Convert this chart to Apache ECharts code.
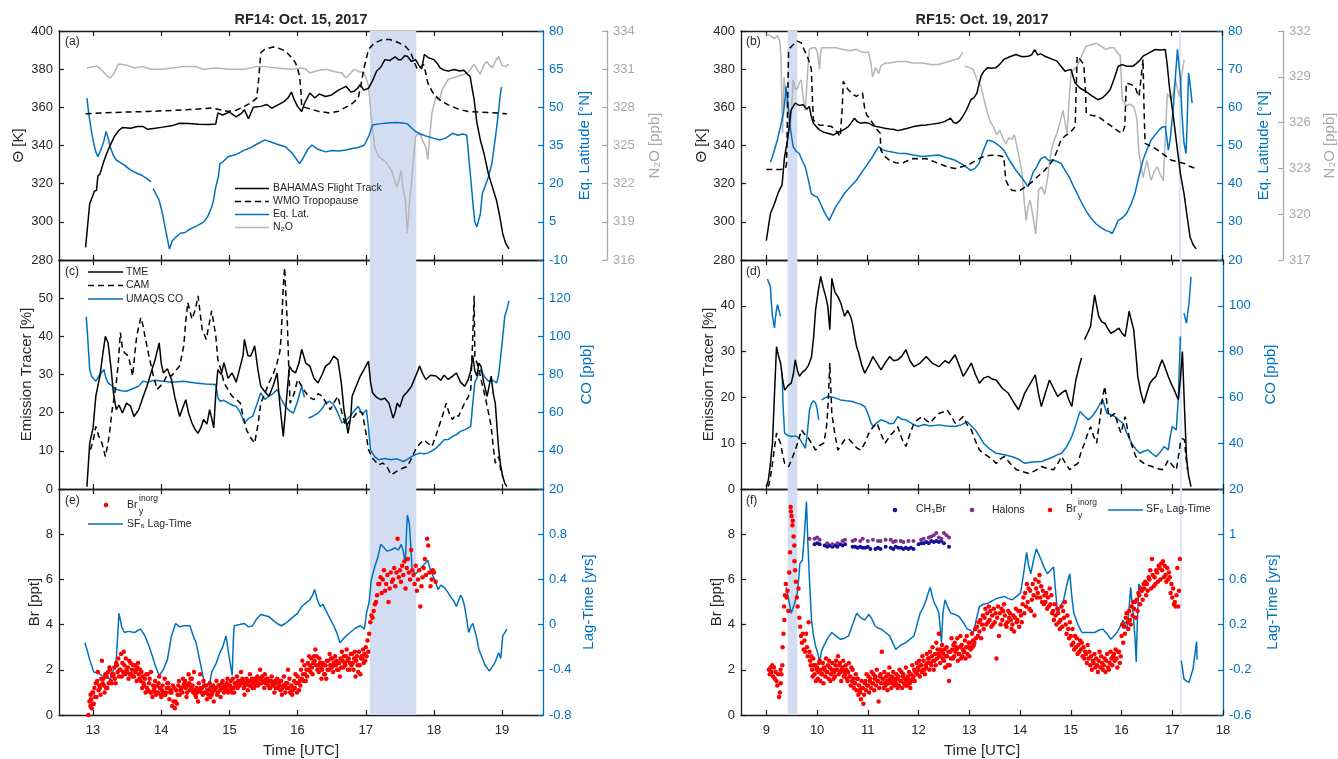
<!DOCTYPE html>
<html><head><meta charset="utf-8">
<script src="https://cdn.jsdelivr.net/npm/echarts@6/dist/echarts.min.js"></script>
<style>html,body{margin:0;padding:0;background:#fff}#c{width:1338px;height:759px}</style>
</head><body><div id="c"></div>
<script>
// ---------------- DATA ----------------
const xTicksL = [13,14,15,16,17,18,19];
const xTicksR = [9,10,11,12,13,14,15,16,17,18];
const thetaTicks = [280,300,320,340,360,380,400];
const latTicksL = [-10,5,20,35,50,65,80];
const latTicksR = [20,30,40,50,60,70,80];
const n2oTicksL = [316,319,322,325,328,331,334];
const n2oTicksR = [317,320,323,326,329,332];
const emTicksL = [0,10,20,30,40,50];
const emTicksR = [0,10,20,30,40];
const coTicksL = [20,40,60,80,100,120];
const coTicksR = [20,40,60,80,100];
const brTicks = [0,2,4,6,8];
const lagTicksL = [-0.8,-0.4,0,0.4,0.8];
const lagTicksR = [-0.6,-0.2,0.2,0.6,1];
const shadeL = [17.06,17.74];
const shadeR = [9.42,9.61];
const shadeR2 = [17.15,17.19];

// RF14 (left column)
const thetaL = [[12.89,286.6],[12.95,309.5],[13.02,316],[13.05,316.5],[13.07,324],[13.1,325],[13.16,332],[13.22,337.6],[13.31,344.6],[13.38,348],[13.43,349.4],[13.55,349],[13.65,350],[13.73,350],[13.8,348.5],[13.91,349],[14.0,349.5],[14.15,350.3],[14.27,351.7],[14.4,351.5],[14.55,351.2],[14.7,351],[14.8,351.3],[14.83,357],[14.9,356],[15.0,357.5],[15.1,355],[15.18,357],[15.22,358.7],[15.28,354],[15.35,360],[15.46,360.5],[15.55,361.5],[15.62,359.5],[15.7,361],[15.8,363],[15.86,365],[15.91,368],[15.95,364],[16.0,360.5],[16.06,357.8],[16.1,362],[16.18,367.5],[16.25,365],[16.32,367],[16.41,365.7],[16.5,366.5],[16.6,369],[16.71,371],[16.78,368],[16.83,368.4],[16.88,370],[16.92,372],[16.97,369],[17.04,370],[17.1,374],[17.16,379],[17.22,381],[17.28,385],[17.35,384.5],[17.43,386.5],[17.48,385],[17.52,385],[17.57,387],[17.61,386.8],[17.67,384],[17.73,385],[17.78,382],[17.82,380],[17.86,387.7],[17.92,386],[18.0,385],[18.05,383],[18.09,380.7],[18.15,379.5],[18.21,379],[18.3,379.8],[18.38,379],[18.44,379.4],[18.5,377],[18.53,376.3],[18.56,370],[18.59,364],[18.63,352],[18.68,343],[18.74,335],[18.8,325],[18.86,318],[18.92,311],[18.97,302],[19.01,293.7],[19.05,289],[19.1,285.8]];
const tropL = [[12.89,356.6],[13.1,357],[13.43,357.5],[13.8,357.8],[14.03,358.2],[14.4,358.8],[14.74,359.6],[14.9,358.5],[14.98,357.8],[15.1,358.5],[15.22,360.5],[15.32,362.5],[15.4,364.8],[15.43,375],[15.46,388.6],[15.52,390.5],[15.64,391.6],[15.72,391],[15.82,389.5],[15.9,386.5],[15.97,383.3],[16.0,380],[16.03,376.3],[16.05,368],[16.06,360.5],[16.18,359.2],[16.3,358],[16.47,357],[16.6,358],[16.71,360.1],[16.8,362],[16.89,364.8],[16.93,372],[16.98,381.5],[17.04,390.3],[17.12,393.5],[17.25,395.6],[17.35,395.5],[17.43,394.7],[17.5,393.5],[17.58,392],[17.63,390],[17.67,387.7],[17.72,383],[17.76,379.8],[17.8,381],[17.85,382.4],[17.88,378],[17.91,372.8],[17.97,368.5],[18.03,365.7],[18.12,363],[18.21,361.3],[18.35,359.2],[18.5,357.8],[18.65,357.5],[18.8,357.3],[18.95,357],[19.07,356.6]];
const latL = [[12.91,53.6],[12.93,49],[12.95,45.1],[12.98,40],[13.01,35.8],[13.04,32.5],[13.07,30.6],[13.1,32.5],[13.13,34.5],[13.16,37],[13.19,40.5],[13.22,38],[13.25,34.5],[13.3,31],[13.34,29.3],[13.45,27.5],[13.55,25.3],[13.65,24],[13.72,23.2],[13.79,22.0],[13.85,20.7],[13.86,null],[13.88,18.1],[13.93,15.5],[13.97,13.4],[14.02,8],[14.07,1],[14.12,-5.7],[14.16,-2.5],[14.21,-1.1],[14.28,0.5],[14.35,0.8],[14.39,1.6],[14.45,2.5],[14.53,3.5],[14.62,4.9],[14.68,7],[14.74,10.8],[14.77,14],[14.8,18.7],[14.84,23],[14.86,27.9],[14.9,28.5],[14.98,30.6],[15.1,31.5],[15.22,33.2],[15.3,34],[15.4,35.5],[15.52,37.2],[15.6,36.5],[15.7,35.5],[15.82,34.5],[15.92,32],[16.0,29],[16.03,27.9],[16.08,30],[16.15,33.5],[16.21,35.2],[16.3,33.5],[16.41,32.5],[16.5,33],[16.6,32.8],[16.71,33.2],[16.8,33.8],[16.9,34.3],[16.98,35.2],[17.05,39],[17.1,43.1],[17.2,43.5],[17.31,43.8],[17.45,44],[17.55,43.8],[17.61,43.5],[17.67,42],[17.73,40.5],[17.8,39.5],[17.91,38.5],[18.0,37.8],[18.09,37.2],[18.18,38],[18.27,39.8],[18.35,39],[18.42,39.5],[18.48,39.1],[18.5,34],[18.51,30.6],[18.54,22],[18.56,16.1],[18.58,10],[18.6,5],[18.63,3],[18.65,2.9],[18.68,8],[18.71,16.1],[18.75,19],[18.8,22.7],[18.85,28],[18.89,35.8],[18.92,42],[18.95,49],[18.97,54],[18.99,58]];
const n2oL = [[12.91,331.1],[13.0,331.2],[13.07,331.2],[13.15,330.8],[13.2,330.5],[13.25,330.3],[13.3,330.6],[13.37,331.4],[13.5,331.3],[13.6,331.1],[13.73,331.2],[13.85,331.0],[14.03,331],[14.15,331.1],[14.33,331.2],[14.5,331.2],[14.62,331.0],[14.8,331.1],[15.0,331.0],[15.22,331.0],[15.4,331.2],[15.52,331.2],[15.7,331.1],[15.9,331.0],[16.05,331.1],[16.12,331],[16.18,330.7],[16.3,330.9],[16.41,331],[16.55,330.8],[16.65,330.7],[16.71,330.3],[16.78,330.7],[16.83,331],[16.9,330.8],[16.98,330.7],[17.04,329.7],[17.08,327.3],[17.13,324.9],[17.19,324.1],[17.25,323.9],[17.31,323.6],[17.38,323.0],[17.46,321.7],[17.52,323],[17.55,321.5],[17.58,320.7],[17.61,318.1],[17.64,320.5],[17.67,322],[17.7,324],[17.73,325.7],[17.79,326],[17.84,325.3],[17.88,324.9],[17.91,323.9],[17.94,325.8],[17.97,327.5],[18.03,328.9],[18.08,328.5],[18.12,329.4],[18.21,330.2],[18.33,330.4],[18.45,330.6],[18.51,330.8],[18.55,331.1],[18.59,331.4],[18.63,331.0],[18.68,330.6],[18.72,331.2],[18.77,331.6],[18.82,331.3],[18.86,331.1],[18.9,331.6],[18.95,332],[19.0,331.3],[19.05,331.2],[19.1,331.4]];
const tmeL = [[12.91,0.6],[12.95,12],[13.0,16],[13.04,24.3],[13.1,29.6],[13.14,35],[13.18,40],[13.22,38.3],[13.26,32.2],[13.3,25],[13.34,20.8],[13.38,22],[13.43,19.9],[13.49,22.5],[13.55,21.7],[13.6,19],[13.67,20.8],[13.73,24],[13.79,26.9],[13.85,30.5],[13.91,33.9],[13.97,38.3],[14.0,33],[14.03,30.4],[14.09,31.5],[14.15,28.7],[14.2,24],[14.27,19],[14.31,21],[14.36,23.4],[14.4,20],[14.45,17.3],[14.5,15.5],[14.54,14.6],[14.58,16],[14.62,18.2],[14.67,17],[14.71,20.8],[14.74,18.5],[14.77,16],[14.8,25],[14.83,31.3],[14.88,30],[14.92,33.1],[14.98,29],[15.04,30.4],[15.1,28],[15.16,32.2],[15.2,35],[15.22,39.2],[15.27,35],[15.31,34.8],[15.34,36],[15.37,37.5],[15.42,31],[15.46,26.9],[15.52,25.5],[15.58,24.3],[15.64,27],[15.7,30.4],[15.74,22],[15.79,13.8],[15.83,22],[15.88,32.2],[15.92,31],[15.97,30.4],[16.02,33],[16.06,36.6],[16.12,33],[16.18,32.2],[16.24,29],[16.3,27.8],[16.36,30],[16.41,32.2],[16.47,33],[16.53,34.8],[16.59,33.9],[16.64,28],[16.68,20.8],[16.74,14.6],[16.78,19],[16.8,24.3],[16.86,27],[16.92,29.6],[16.98,31.5],[17.04,33.5],[17.07,28],[17.1,25.2],[17.16,24],[17.22,23.4],[17.28,23.8],[17.34,22.5],[17.4,18.6],[17.43,20],[17.46,22.5],[17.5,21.5],[17.55,24.3],[17.61,25.5],[17.67,26.9],[17.73,29.5],[17.79,32.2],[17.84,30],[17.88,28.7],[17.95,29.8],[18.03,29.6],[18.1,28.5],[18.15,29.8],[18.21,28.7],[18.27,29.5],[18.33,30.4],[18.39,28],[18.45,26.9],[18.5,28.5],[18.54,31],[18.57,34.8],[18.6,31],[18.63,29.6],[18.66,33],[18.69,32.2],[18.73,28],[18.78,24.3],[18.81,27],[18.84,29.6],[18.87,25],[18.9,22.5],[18.93,15],[18.95,10.3],[18.98,6],[19.01,3.2],[19.04,1.5],[19.07,0.6]];
const camL = [[12.96,10.3],[13.0,12.5],[13.04,16.4],[13.08,14],[13.13,12],[13.18,8.5],[13.22,12],[13.25,16],[13.28,20.8],[13.31,24],[13.34,27.8],[13.37,33],[13.4,41],[13.43,37],[13.46,35.7],[13.52,34.8],[13.58,29.6],[13.61,35],[13.64,40.1],[13.7,44.9],[13.73,43],[13.76,40.1],[13.82,34.8],[13.88,30],[13.94,26.1],[14.03,27.8],[14.09,30],[14.15,29.6],[14.21,31],[14.27,32.2],[14.33,37.5],[14.36,44],[14.39,48.9],[14.45,44.5],[14.5,47],[14.54,50.6],[14.6,41.8],[14.66,39.2],[14.7,43],[14.74,46.7],[14.8,40.1],[14.83,33.9],[14.88,31],[14.92,27.8],[14.98,26],[15.04,24.3],[15.1,23.5],[15.16,22.5],[15.2,19],[15.25,15.5],[15.31,13.5],[15.37,12],[15.42,17],[15.46,22.5],[15.52,25],[15.58,27.8],[15.64,30],[15.7,33.1],[15.74,36],[15.76,40.1],[15.79,53.2],[15.81,58],[15.83,50],[15.85,43.6],[15.87,32],[15.89,22.5],[15.95,25],[16.0,28.7],[16.06,27],[16.12,25.2],[16.18,24],[16.24,23.4],[16.3,25],[16.36,24.3],[16.42,22.5],[16.48,20.8],[16.53,22.5],[16.59,24.3],[16.65,20],[16.71,16.4],[16.77,18],[16.83,19],[16.89,20.5],[16.95,19.9],[17.0,15],[17.04,10.3],[17.1,8],[17.19,6.3],[17.25,6.8],[17.31,5.9],[17.35,4.5],[17.38,3.7],[17.44,4.5],[17.49,5],[17.55,5.5],[17.61,5.9],[17.67,8],[17.73,10.3],[17.79,11.8],[17.85,12.9],[17.91,12],[17.97,11.1],[18.03,14],[18.09,17.3],[18.14,20],[18.18,22.5],[18.22,20],[18.27,18.2],[18.32,19.5],[18.36,19],[18.41,21],[18.45,22.5],[18.5,24],[18.54,26.1],[18.57,40],[18.59,50.6],[18.6,34.8],[18.66,31.3],[18.7,28],[18.75,24.3],[18.8,20],[18.84,16.4],[18.87,11],[18.9,6.8],[18.95,8.5],[18.98,5],[19.01,3.2]];
const coL = [[12.9,110.2],[12.92,100],[12.95,82.6],[12.98,79],[13.04,76.5],[13.1,80],[13.16,82.6],[13.19,78],[13.22,75.6],[13.28,74],[13.34,72.1],[13.42,71.5],[13.49,71.2],[13.58,72.5],[13.67,73.9],[13.73,76.5],[13.8,76],[13.9,77],[14.03,76.5],[14.15,76],[14.33,76.5],[14.5,75.5],[14.65,75],[14.8,74.7],[14.83,68],[14.86,66],[14.92,66.5],[14.98,65.1],[15.04,64],[15.1,63.3],[15.16,60],[15.22,54.6],[15.28,57],[15.34,58.1],[15.4,64],[15.46,70.4],[15.52,67],[15.58,68.6],[15.64,70],[15.7,72.1],[15.76,67],[15.82,63.3],[15.88,61],[15.94,59.8],[16.0,66],[16.06,73.9],[16.1,68],[16.14,null],[16.16,57.2],[16.22,58],[16.3,59.8],[16.36,62],[16.41,65.1],[16.47,66],[16.53,64.2],[16.59,60],[16.65,54.6],[16.71,56],[16.77,58.1],[16.83,61],[16.89,63.3],[16.95,59],[17.01,61.6],[17.04,52],[17.07,40.5],[17.13,37],[17.19,35.3],[17.28,36],[17.37,35.3],[17.46,35.8],[17.55,34.4],[17.61,35.5],[17.67,37],[17.73,38],[17.79,38.8],[17.85,38.5],[17.91,38.8],[17.97,40],[18.03,41.4],[18.09,43.5],[18.15,45.8],[18.21,46],[18.27,47.5],[18.33,48.5],[18.39,50.2],[18.45,51],[18.54,52.8],[18.57,65],[18.6,75.6],[18.65,80],[18.69,82.6],[18.74,79],[18.8,76.5],[18.86,77],[18.92,75.6],[18.95,80],[18.98,89.6],[19.01,100],[19.04,110.7],[19.07,114],[19.1,118.6]];
const lagL = [[12.88,-0.16],[12.92,-0.24],[12.95,-0.31],[13.01,-0.42],[13.07,-0.43],[13.13,-0.45],[13.19,-0.47],[13.25,-0.48],[13.3,-0.4],[13.34,-0.31],[13.38,0.1],[13.42,-0.02],[13.46,-0.07],[13.52,-0.06],[13.61,-0.07],[13.66,-0.05],[13.7,-0.04],[13.76,-0.1],[13.82,-0.19],[13.87,-0.28],[13.91,-0.36],[13.97,-0.45],[14.03,-0.4],[14.09,-0.31],[14.15,-0.1],[14.21,0.01],[14.27,-0.02],[14.33,-0.01],[14.42,-0.01],[14.47,-0.1],[14.51,-0.16],[14.57,-0.33],[14.62,-0.48],[14.68,-0.63],[14.74,-0.42],[14.8,-0.35],[14.86,-0.25],[14.9,-0.2],[14.95,-0.1],[15.0,-0.3],[15.04,-0.45],[15.06,-0.1],[15.07,-0.01],[15.15,0.0],[15.22,0.01],[15.28,-0.02],[15.34,-0.01],[15.4,0.05],[15.46,0.09],[15.52,0.08],[15.58,0.07],[15.64,0.04],[15.7,0.01],[15.76,-0.01],[15.82,0.01],[15.88,0.04],[15.94,0.07],[16.0,0.1],[16.06,0.16],[16.12,0.19],[16.18,0.22],[16.22,0.26],[16.25,0.31],[16.29,0.22],[16.33,0.16],[16.37,0.18],[16.41,0.13],[16.47,0.06],[16.53,-0.01],[16.58,-0.08],[16.62,-0.16],[16.68,-0.12],[16.77,-0.07],[16.85,-0.03],[16.92,-0.01],[16.98,-0.04],[17.01,0.1],[17.05,0.2],[17.08,0.39],[17.13,0.51],[17.18,0.6],[17.22,0.71],[17.27,0.68],[17.31,0.65],[17.37,0.66],[17.43,0.68],[17.48,0.66],[17.52,0.71],[17.55,0.65],[17.58,0.54],[17.6,0.85],[17.61,0.97],[17.64,0.89],[17.66,0.7],[17.68,0.48],[17.73,0.45],[17.78,0.48],[17.82,0.51],[17.87,0.54],[17.91,0.57],[17.94,0.5],[17.97,0.45],[18.01,0.4],[18.06,0.31],[18.1,0.35],[18.15,0.33],[18.2,0.29],[18.24,0.25],[18.29,0.21],[18.33,0.16],[18.39,0.26],[18.42,0.23],[18.45,0.16],[18.48,0.05],[18.51,-0.07],[18.54,-0.02],[18.57,0.01],[18.62,-0.1],[18.66,-0.22],[18.7,-0.28],[18.75,-0.36],[18.81,-0.41],[18.86,-0.37],[18.9,-0.33],[18.93,-0.28],[18.95,-0.25],[18.98,-0.3],[19.01,-0.1],[19.07,-0.04]];
const brL_t = [12.93,12.96,13.0,13.05,13.1,13.15,13.2,13.25,13.3,13.35,13.4,13.45,13.5,13.55,13.6,13.65,13.7,13.75,13.8,13.85,13.9,13.95,14.0,14.05,14.1,14.15,14.2,14.25,14.3,14.35,14.4,14.45,14.5,14.55,14.6,14.65,14.7,14.75,14.8,14.85,14.9,14.95,15.0,15.05,15.1,15.15,15.2,15.25,15.3,15.35,15.4,15.45,15.5,15.55,15.6,15.65,15.7,15.75,15.8,15.85,15.9,15.95,16.0,16.05,16.1,16.15,16.2,16.25,16.3,16.35,16.4,16.45,16.5,16.55,16.6,16.65,16.7,16.75,16.8,16.85,16.9,16.95,17.0,17.05,17.1,17.15,17.2,17.25,17.3,17.35,17.4,17.45,17.5,17.55,17.6,17.65,17.7,17.75,17.8,17.85,17.9,17.95,18.0];
const brL_v = [[0.0,0.6,0.9],[0.4,0.7,0.3,1.0,0.5],[1.0,0.5,1.2,0.8,1.4],[0.8,1.5,1.9,1.1,1.3],[1.2,0.9,1.6,2.4,1.4],[1.6,1.3,1.0,1.8,1.2],[1.7,1.2,1.9,1.4,2.1],[2.0,1.5,1.4,1.8,1.7],[1.8,2.1,1.6,1.4,2.3],[2.2,1.9,2.5,1.7,2.0],[2.0,2.7,1.7,2.3,1.9],[2.8,2.2,1.8,2.5,2.0],[1.9,2.1,1.6,2.4,1.8],[2.3,1.8,2.0,1.7,2.2],[1.7,2.2,1.9,2.0,1.5],[2.1,2.3,1.8,1.6,2.0],[1.5,1.9,1.2,1.7,1.4],[1.3,1.6,1.0,1.8,1.2],[1.8,1.1,1.4,1.6,1.0],[1.9,1.0,0.8,1.3,1.1],[1.2,1.5,0.9,1.0,1.3],[1.0,1.4,1.7,1.2,0.9],[0.8,1.1,1.3,1.0,0.9],[1.6,0.9,1.0,1.2,1.4],[1.4,1.2,0.7,1.0,1.1],[1.0,0.4,1.3,0.6,1.2],[0.3,0.6,1.1,0.5,0.9],[1.3,1.5,0.9,1.1,1.2],[1.2,1.0,1.6,1.3,1.4],[1.5,1.2,0.8,1.0,1.3],[1.8,1.4,1.1,1.6,1.2],[1.6,1.3,1.0,1.9,1.1],[0.9,0.8,1.2,1.0,0.6],[1.4,1.1,1.8,1.2,1.0],[1.2,0.9,1.5,1.3,1.0],[1.0,1.3,0.7,1.1,0.9],[1.1,1.4,0.8,1.2,0.9],[1.0,1.3,0.6,1.1,1.2],[1.2,1.5,0.9,1.0,1.3],[1.3,1.1,0.8,1.2,1.4],[1.5,1.2,1.0,1.3,1.1],[1.2,1.4,1.6,1.0,1.3],[1.1,1.3,1.5,1.2,1.0],[1.6,1.2,1.0,1.4,1.3],[1.4,1.7,1.2,1.5,1.3],[1.3,1.5,1.9,1.4,1.6],[1.5,1.2,0.9,1.3,1.4],[1.6,1.4,1.1,1.5,1.3],[1.8,1.3,1.5,1.6,1.2],[1.4,1.2,1.6,1.5,1.3],[1.5,1.7,1.3,1.4,1.6],[2.0,1.6,1.4,1.7,1.5],[1.5,1.2,1.8,1.4,1.6],[1.4,1.6,1.3,1.5,1.2],[1.2,1.5,1.7,1.4,1.3],[1.3,1.0,1.5,1.2,1.4],[1.6,1.2,1.4,1.3,1.5],[1.1,1.5,0.9,1.2,1.3],[1.7,1.3,1.0,1.4,1.2],[1.4,2.0,1.2,1.6,1.0],[1.0,1.3,0.9,1.1,1.2],[1.5,1.2,1.8,1.4,1.0],[1.7,1.4,1.1,1.5,1.3],[2.0,1.6,2.4,1.8,1.5],[2.2,1.8,1.5,2.0,1.7],[2.3,2.0,2.6,2.2,1.9],[2.5,2.1,1.8,2.3,2.6],[2.4,2.9,2.2,2.6,2.0],[2.2,1.9,2.5,2.3,2.1],[1.6,2.0,2.3,2.2,1.8],[1.8,2.2,1.6,2.4,2.0],[2.4,2.0,2.7,2.2,2.5],[2.1,2.5,1.9,2.3,2.2],[2.6,2.2,2.4,2.0,2.3],[2.0,2.3,1.7,2.5,2.1],[2.8,2.4,2.1,2.6,2.3],[2.2,2.6,2.9,2.4,2.0],[2.5,2.0,2.3,2.7,2.2],[2.7,2.3,2.0,2.5,2.8],[1.7,2.4,2.6,2.2,1.9],[2.8,2.2,1.8,2.5,2.6],[2.5,2.9,2.3,2.7,2.4],[3.0,2.6,3.3,2.8],[3.6,4.1,4.4],[4.3,4.6,4.9],[5.0,5.3,5.8],[5.8,6.1,5.4],[6.0,6.4,5.5],[5.8,6.2,5.0],[5.6,6.3,5.9],[6.0,6.5,5.7],[6.3,7.8,6.1],[6.4,5.9,6.6],[6.2,6.8,5.6],[6.5,6.9,6.3],[6.0,7.3,6.4],[6.2,5.8,6.6],[5.5,6.0,6.4],[4.8,5.7,6.1],[6.5,6.9,6.2],[7.8,7.5,6.3],[5.7,6.0,6.4],[6.3,5.9]];

// RF15 (right column)
const thetaR = [[9.0,290.2],[9.08,304.2],[9.16,309.5],[9.24,315.6],[9.31,319.2],[9.36,334.1],[9.42,342.9],[9.49,358.7],[9.57,362.2],[9.65,361],[9.73,361.3],[9.8,359],[9.85,360.5],[9.89,355],[9.93,351.7],[10.0,349.5],[10.05,348.2],[10.13,347],[10.21,346.4],[10.33,345.5],[10.4,346.8],[10.46,347.3],[10.54,348.5],[10.62,349.9],[10.68,352],[10.74,354.3],[10.8,352.5],[10.86,351.7],[10.94,352],[11.02,351.7],[11.1,350.5],[11.18,349.9],[11.26,349.5],[11.34,349],[11.43,348.6],[11.51,348.5],[11.59,347.8],[11.67,348.2],[11.79,349],[11.91,349.9],[12.03,350.5],[12.15,350.8],[12.27,351.2],[12.4,351.7],[12.52,352.5],[12.64,354.3],[12.7,352],[12.76,351.7],[12.82,353],[12.88,355.2],[12.96,359],[13.04,364],[13.1,365],[13.16,367.5],[13.2,372],[13.24,376.3],[13.3,379],[13.37,380.7],[13.45,380.5],[13.53,380.7],[13.61,382.5],[13.69,385.1],[13.81,386.5],[13.93,387.7],[14.05,386.5],[14.17,386.8],[14.24,387.5],[14.3,390.3],[14.36,387.5],[14.42,388],[14.5,386.8],[14.62,385.5],[14.74,384.2],[14.82,381.5],[14.9,378.9],[14.96,379.5],[15.02,379.8],[15.06,376],[15.1,372.8],[15.2,370],[15.31,368.4],[15.43,366],[15.55,364],[15.64,365],[15.72,367],[15.79,369.2],[15.87,375],[15.95,381.5],[16.03,382.4],[16.12,381.5],[16.24,381.5],[16.3,382.8],[16.36,384.2],[16.44,386.8],[16.56,388.5],[16.68,390.3],[16.78,390],[16.88,390.3],[16.92,382],[16.96,371],[17.04,355],[17.12,337.6],[17.18,325],[17.25,314.8],[17.31,303],[17.37,291.9],[17.43,288],[17.49,285.8]];
const tropR = [[9.0,327.4],[9.28,327.4],[9.38,328],[9.4,330.6],[9.42,360],[9.44,390.3],[9.52,392.5],[9.61,394.7],[9.69,393.8],[9.75,390],[9.81,386.8],[9.87,382],[9.89,379.8],[9.91,365],[9.93,353.4],[10.0,351.5],[10.05,350.8],[10.15,350.5],[10.29,349.9],[10.4,347],[10.46,344.6],[10.5,360],[10.52,373.6],[10.57,371],[10.62,369.2],[10.7,367],[10.78,365.7],[10.84,367],[10.9,367.5],[10.94,360],[10.98,356.1],[11.04,354],[11.1,351.7],[11.18,348.5],[11.25,346.4],[11.26,337.6],[11.35,334],[11.43,332.3],[11.55,331],[11.67,330.6],[11.79,332],[11.91,333.2],[12.03,333],[12.15,333.2],[12.27,332],[12.4,330.6],[12.56,329],[12.72,327.9],[12.88,329],[13.04,330.6],[13.16,332.5],[13.28,334.1],[13.4,334.8],[13.53,335],[13.61,334.6],[13.69,334.1],[13.71,328],[13.73,321.8],[13.79,318.5],[13.85,316.5],[13.93,316.3],[14.01,316.5],[14.13,318.5],[14.25,320.9],[14.37,324],[14.5,327],[14.58,329.5],[14.66,332.3],[14.74,337],[14.82,342.9],[14.9,345],[14.98,346.4],[15.04,348],[15.1,349.9],[15.12,370],[15.14,386.8],[15.2,385],[15.27,382.4],[15.3,370],[15.32,356.9],[15.42,355.8],[15.55,355.2],[15.69,352.5],[15.83,349.9],[15.95,347.5],[16.03,346.4],[16.08,350],[16.11,372.8],[16.2,372],[16.28,371],[16.32,368],[16.36,365.7],[16.4,375],[16.44,385.1],[16.46,360],[16.48,341.1],[16.58,339.8],[16.68,338.5],[16.84,335.5],[17.0,332.3],[17.12,331.5],[17.25,330.6],[17.37,329],[17.49,327.9]];
const latR = [[9.08,45.7],[9.12,47],[9.16,48.8],[9.22,51.5],[9.28,55],[9.34,58.5],[9.37,62],[9.39,65.5],[9.41,63],[9.44,59.4],[9.48,54],[9.53,49.7],[9.59,48.5],[9.65,47.9],[9.71,46],[9.77,44.4],[9.83,41],[9.89,37.4],[9.95,36.8],[10.01,36.5],[10.07,34.8],[10.13,33],[10.19,31.5],[10.24,30.4],[10.3,32],[10.37,33.9],[10.45,35.5],[10.54,37.4],[10.66,39.2],[10.78,40.9],[10.86,42.5],[10.94,44],[11.02,45.5],[11.1,47.1],[11.16,48.5],[11.22,49.7],[11.3,48.8],[11.43,48.4],[11.6,48],[11.75,47.9],[11.9,47.5],[12.07,47.1],[12.25,47.3],[12.4,47.5],[12.56,46.8],[12.72,46.2],[12.88,45],[13.04,43.5],[13.12,44],[13.2,45.3],[13.28,48.5],[13.37,51.4],[13.45,51.2],[13.53,50.6],[13.61,49.8],[13.69,48.8],[13.81,46],[13.93,43.5],[14.05,41.5],[14.17,39.2],[14.22,41],[14.27,43],[14.34,44.4],[14.42,46.5],[14.5,47.1],[14.58,46],[14.66,46.2],[14.74,45.8],[14.82,45.3],[14.9,43.5],[14.98,41.8],[15.06,39.5],[15.14,37.4],[15.22,35.2],[15.31,33],[15.41,31],[15.51,29.5],[15.61,28.5],[15.71,27.7],[15.77,27.5],[15.83,26.9],[15.89,28.5],[15.95,30.4],[16.03,31],[16.11,32.1],[16.2,34.5],[16.28,37.4],[16.36,42],[16.44,46.2],[16.52,49],[16.6,51.4],[16.68,52.8],[16.76,54.1],[16.82,54.8],[16.88,55],[16.91,52],[16.94,48.8],[16.98,52],[17.04,60.2],[17.08,68],[17.12,75.2],[17.15,71],[17.18,67.3],[17.21,58],[17.25,50.6],[17.29,47.9],[17.31,55],[17.34,69],[17.37,66],[17.41,61.1]];
const n2oR = [[9.0,331.8],[9.08,331.7],[9.16,331.5],[9.22,331.7],[9.27,331.3],[9.29,330.1],[9.32,325.3],[9.35,329],[9.39,327.5],[9.43,326.5],[9.47,325.3],[9.5,327],[9.53,328.8],[9.57,328.2],[9.61,328.2],[9.65,328.6],[9.69,328.8],[9.73,327.5],[9.77,326.8],[9.81,329],[9.85,330.8],[9.91,330.9],[9.97,330.9],[10.01,330.6],[10.05,329.5],[10.07,330.5],[10.09,330.9],[10.2,330.9],[10.37,330.9],[10.5,330.8],[10.65,330.7],[10.78,330.8],[10.9,330.6],[11.02,330.6],[11.06,330],[11.1,329],[11.16,329.6],[11.22,329.2],[11.26,329.7],[11.35,329.9],[11.43,329.9],[11.6,330],[11.75,330],[11.9,329.9],[12.07,329.9],[12.25,329.8],[12.4,329.8],[12.6,330],[12.8,330.2],[12.88,330.6],[12.9,null],[12.92,329.7],[13.0,329.6],[13.08,329.5],[13.12,329.2],[13.16,328.8],[13.2,328.6],[13.24,328.4],[13.3,327.5],[13.37,326.6],[13.43,326],[13.49,325.7],[13.55,325.2],[13.61,325.5],[13.67,325],[13.73,324.6],[13.79,325],[13.85,324.9],[13.9,325.2],[13.93,325.1],[13.99,323.8],[14.05,322.7],[14.09,321],[14.13,319.6],[14.17,320.5],[14.21,320.9],[14.26,320],[14.32,318.7],[14.35,320],[14.38,321.6],[14.44,321.8],[14.5,321.3],[14.56,322.5],[14.62,324],[14.68,324.8],[14.74,325.3],[14.8,326],[14.86,326.8],[14.9,326],[14.94,325.3],[14.98,327.5],[15.02,329.3],[15.08,329.5],[15.14,329.7],[15.22,330.3],[15.31,331],[15.41,331.1],[15.51,331.2],[15.61,331],[15.71,330.8],[15.79,330.9],[15.87,330.9],[15.93,330.6],[15.99,330.4],[16.01,329],[16.03,327.5],[16.07,327.3],[16.11,327.1],[16.18,327.2],[16.24,327.1],[16.28,326.8],[16.32,326.2],[16.34,325],[16.36,324],[16.4,323.2],[16.44,322.4],[16.48,323],[16.52,323.5],[16.56,322.8],[16.6,322.2],[16.66,322.8],[16.72,323.1],[16.78,322.6],[16.84,322.2],[16.88,325],[16.92,327.9],[16.96,327.7],[17.0,327.5],[17.04,328],[17.08,328.8],[17.12,328.2],[17.16,327.7],[17.2,329],[17.25,330.1]];
const tmeR = [[9.0,0.5],[9.04,2],[9.08,5.6],[9.12,10],[9.15,18],[9.18,26],[9.2,31.1],[9.24,29],[9.28,27.5],[9.32,24],[9.36,21.6],[9.42,22.5],[9.49,23.1],[9.53,25],[9.57,28.2],[9.61,26],[9.65,24.6],[9.71,25.5],[9.77,26],[9.83,27],[9.89,28.9],[9.93,33],[9.97,39.1],[10.02,43],[10.07,46.4],[10.12,44],[10.17,42],[10.21,40],[10.25,34.8],[10.27,40],[10.29,46],[10.35,43],[10.41,42],[10.47,40.5],[10.54,37.7],[10.6,39],[10.66,37.7],[10.7,36],[10.74,33.3],[10.78,31],[10.82,29.7],[10.88,27],[10.94,25.3],[11.02,27],[11.1,28.9],[11.18,27.5],[11.26,26],[11.34,27.5],[11.43,28.9],[11.51,28],[11.59,28.2],[11.67,29],[11.75,30.4],[11.83,28],[11.91,26.7],[12.03,27.5],[12.15,28.9],[12.27,27.5],[12.4,26.7],[12.52,28],[12.6,27.5],[12.72,29.3],[12.8,27],[12.88,24.6],[12.96,26],[13.04,27.5],[13.12,25],[13.2,23.1],[13.28,24.2],[13.37,24.6],[13.45,24],[13.53,23.8],[13.65,22],[13.77,20.9],[13.87,19],[13.97,17.3],[14.03,19],[14.09,20.9],[14.2,23],[14.3,24.9],[14.36,21],[14.42,18],[14.5,21],[14.58,23.8],[14.66,22],[14.74,20.2],[14.82,21],[14.9,21.6],[14.96,19.5],[15.02,18],[15.06,21],[15.1,23.8],[15.16,26.5],[15.21,28.6],[15.24,null],[15.27,32.6],[15.33,34],[15.39,35.5],[15.43,39],[15.47,42.4],[15.51,40],[15.55,37.7],[15.61,36.5],[15.67,36.2],[15.73,35],[15.79,34],[15.87,34.5],[15.95,35.1],[16.01,34],[16.07,33.3],[16.11,36],[16.15,38.8],[16.2,36.5],[16.24,34.8],[16.28,30],[16.32,24.6],[16.38,21],[16.44,18.7],[16.5,21],[16.56,23.1],[16.62,24],[16.68,24.6],[16.74,26.5],[16.8,28.2],[16.86,26.5],[16.92,24.6],[16.98,23],[17.04,21.6],[17.08,20.5],[17.12,19.5],[17.16,24],[17.2,30],[17.24,18],[17.28,7.1],[17.32,3],[17.37,0.5]];
const camR = [[9.04,0.5],[9.08,2.5],[9.12,5.6],[9.16,9],[9.2,12.2],[9.24,11],[9.28,10],[9.32,7.5],[9.36,5.6],[9.44,4.9],[9.5,6.5],[9.57,8.5],[9.63,10.5],[9.69,12.9],[9.75,12],[9.81,11.4],[9.89,10],[9.97,8.5],[10.05,9.5],[10.13,10],[10.18,13],[10.21,17.3],[10.23,22],[10.25,27.5],[10.27,22],[10.29,16.5],[10.35,12],[10.41,8.5],[10.47,9.5],[10.54,10.7],[10.62,11],[10.7,10],[10.78,9],[10.86,8.5],[10.94,10],[11.02,12.2],[11.1,13.5],[11.18,14.4],[11.26,12],[11.34,10],[11.43,11.5],[11.51,12.5],[11.59,13.6],[11.67,11],[11.75,9.3],[11.83,12],[11.91,14.4],[11.99,15.2],[12.07,15.8],[12.15,15],[12.23,14.4],[12.31,15.5],[12.4,16.5],[12.48,16.8],[12.56,17.3],[12.64,16],[12.72,14.4],[12.8,15],[12.88,15.8],[12.96,14],[13.04,12.9],[13.12,10.5],[13.2,8.5],[13.28,7.8],[13.37,7.1],[13.45,6.5],[13.53,5.6],[13.61,6.5],[13.69,7.1],[13.81,5.5],[13.93,4.2],[14.05,3.8],[14.17,3.4],[14.3,4],[14.42,4.9],[14.54,4.5],[14.66,4.2],[14.74,5.5],[14.82,7.1],[14.9,5.5],[14.98,4.2],[15.06,5],[15.14,5.6],[15.2,8],[15.27,10],[15.33,12],[15.39,13.6],[15.45,11.5],[15.51,10],[15.57,15],[15.63,20.2],[15.67,22.4],[15.71,19],[15.75,15.8],[15.81,16],[15.87,16.5],[15.93,14],[15.99,12.2],[16.03,14],[16.07,15.8],[16.11,13.5],[16.15,11.4],[16.22,9],[16.28,7.1],[16.36,6.3],[16.44,5.6],[16.52,5.2],[16.6,4.9],[16.7,4.5],[16.8,4.2],[16.86,5],[16.92,6.3],[17.0,5.2],[17.08,4.2],[17.12,7],[17.16,10],[17.2,11],[17.24,10.7],[17.27,7],[17.3,4.2]];
const coR = [[9.02,111.7],[9.05,110],[9.08,108.5],[9.1,101],[9.12,95.4],[9.14,93],[9.16,90.3],[9.18,95],[9.2,98.3],[9.22,100.5],[9.24,99.7],[9.26,97],[9.28,95.4],[9.29,null],[9.31,70.6],[9.33,56],[9.36,44.3],[9.42,43.5],[9.49,42.9],[9.57,43.2],[9.65,42.2],[9.71,40],[9.77,37.8],[9.81,45],[9.85,54.5],[9.89,57.5],[9.93,58.5],[9.97,57.5],[10.0,55],[10.03,50.2],[10.06,null],[10.09,58.9],[10.17,60],[10.25,60.4],[10.35,59.8],[10.46,58.9],[10.58,58.5],[10.7,58.2],[10.78,57.5],[10.86,57],[10.94,56],[11.0,53],[11.06,49],[11.1,47.3],[11.18,49],[11.26,50.2],[11.35,49.5],[11.43,48.5],[11.51,48.7],[11.59,51.6],[11.67,50.5],[11.75,50.2],[11.87,48.5],[11.99,47.3],[12.11,48.2],[12.23,47.5],[12.4,48],[12.56,47.5],[12.72,47.3],[12.84,48],[12.96,49.4],[13.04,47.5],[13.12,45.8],[13.2,43],[13.28,40],[13.4,37.5],[13.53,35.6],[13.69,35],[13.85,34.1],[13.97,33],[14.09,31.2],[14.25,31.8],[14.42,32],[14.54,33],[14.66,34.1],[14.74,35],[14.82,35.6],[14.92,38.5],[15.02,42.9],[15.1,48],[15.18,53.8],[15.26,52],[15.35,50.2],[15.43,52],[15.51,54.5],[15.57,57],[15.63,58.9],[15.67,56],[15.71,53.1],[15.79,52.5],[15.87,51.6],[15.95,50],[16.03,48.7],[16.11,44],[16.2,40],[16.28,37.5],[16.36,35.6],[16.44,36.5],[16.52,37.1],[16.6,35.5],[16.68,34.1],[16.76,36],[16.84,38.5],[16.92,37.1],[16.96,43],[17.0,47.3],[17.08,45.8],[17.12,60],[17.16,86.6],[17.18,null],[17.23,96.8],[17.28,92.4],[17.33,101.2],[17.37,112.6]];
const lagR = [[9.39,0.53],[9.44,0.42],[9.49,0.3],[9.55,0.38],[9.61,0.48],[9.64,0.62],[9.66,0.74],[9.71,0.77],[9.75,1.0],[9.79,1.29],[9.82,0.9],[9.85,0.59],[9.89,0.24],[9.93,0.1],[9.97,0.01],[10.01,-0.05],[10.05,-0.13],[10.09,-0.03],[10.13,0.01],[10.21,0.08],[10.29,0.13],[10.37,0.1],[10.46,0.07],[10.54,0.08],[10.62,0.1],[10.7,0.2],[10.78,0.3],[10.86,0.26],[10.94,0.24],[11.02,0.29],[11.08,0.25],[11.14,0.19],[11.2,0.17],[11.26,0.16],[11.35,0.13],[11.43,0.1],[11.49,0.04],[11.55,-0.02],[11.65,0.02],[11.75,0.04],[11.83,0.07],[11.91,0.1],[11.97,0.2],[12.03,0.3],[12.09,0.35],[12.15,0.42],[12.19,0.48],[12.23,0.53],[12.27,0.45],[12.31,0.39],[12.36,0.35],[12.4,0.3],[12.43,0.15],[12.45,0.04],[12.48,0.3],[12.52,0.42],[12.58,0.35],[12.64,0.3],[12.72,0.29],[12.8,0.27],[12.88,0.22],[12.96,0.16],[13.02,0.15],[13.08,0.13],[13.14,0.25],[13.2,0.36],[13.28,0.38],[13.37,0.39],[13.45,0.41],[13.53,0.43],[13.61,0.44],[13.69,0.45],[13.77,0.43],[13.85,0.42],[13.93,0.45],[14.01,0.48],[14.07,0.65],[14.13,0.84],[14.17,0.72],[14.21,0.65],[14.27,0.78],[14.32,0.87],[14.37,0.82],[14.42,0.77],[14.48,0.7],[14.54,0.65],[14.6,0.68],[14.66,0.71],[14.7,0.5],[14.74,0.3],[14.8,0.36],[14.86,0.42],[14.92,0.55],[14.98,0.65],[15.02,0.45],[15.06,0.3],[15.14,0.2],[15.22,0.13],[15.35,0.13],[15.47,0.13],[15.55,0.15],[15.63,0.16],[15.71,0.12],[15.79,0.07],[15.85,0.1],[15.91,0.13],[15.97,0.18],[16.03,0.24],[16.07,0.2],[16.11,0.16],[16.15,0.35],[16.18,0.53],[16.21,0.38],[16.24,0.24],[16.27,0.05],[16.29,-0.13],[16.31,0.2],[16.34,0.56],[16.38,0.53],[16.39,null],[17.18,-0.12],[17.23,-0.28],[17.28,-0.3],[17.33,-0.31],[17.37,-0.25],[17.41,-0.19],[17.45,-0.05],[17.48,0.05],[17.49,-0.11]];
const brR_t = [9.05,9.1,9.15,9.2,9.25,9.28,9.32,9.35,9.4,9.45,9.48,9.52,9.55,9.6,9.65,9.7,9.75,9.8,9.85,9.9,9.95,10.0,10.05,10.1,10.15,10.2,10.25,10.3,10.35,10.4,10.45,10.5,10.55,10.6,10.65,10.7,10.75,10.8,10.85,10.9,10.95,11.0,11.05,11.1,11.15,11.2,11.25,11.3,11.35,11.4,11.45,11.5,11.55,11.6,11.65,11.7,11.75,11.8,11.85,11.9,11.95,12.0,12.05,12.1,12.15,12.2,12.25,12.3,12.35,12.4,12.45,12.5,12.55,12.6,12.65,12.7,12.75,12.8,12.85,12.9,12.95,13.0,13.05,13.1,13.15,13.2,13.25,13.3,13.35,13.4,13.45,13.5,13.55,13.6,13.65,13.7,13.75,13.8,13.85,13.9,13.95,14.0,14.05,14.1,14.15,14.2,14.25,14.3,14.35,14.4,14.45,14.5,14.55,14.6,14.65,14.7,14.75,14.8,14.85,14.9,14.95,15.0,15.05,15.1,15.15,15.2,15.25,15.3,15.35,15.4,15.45,15.5,15.55,15.6,15.65,15.7,15.75,15.8,15.85,15.9,15.95,16.0,16.05,16.1,16.15,16.2,16.25,16.3,16.35,16.4,16.45,16.5,16.55,16.6,16.65,16.7,16.75,16.8,16.85,16.9,16.95,17.0,17.05,17.1,17.15];
const brR_v = [[2.0,1.8,2.1],[1.9,2.2,1.7],[2.1,1.6,1.9],[1.5,1.3,1.8],[0.8,1.0,1.4],[2.0,1.8,2.2],[3.0,3.6,4.2],[4.8,5.3,5.8],[5.2,5.5,4.6],[6.3,7.2,9.0],[9.2,8.8,8.4],[8.6,7.9,6.8],[7.5,6.4,5.9],[5.2,4.8,5.6],[4.3,3.9,3.5],[3.2,3.6,2.9],[3.3,2.8,3.6],[3.0,2.6,4.1],[2.8,2.4,2.2,2.6],[2.0,1.7,2.5,2.2],[1.8,2.2,1.5,2.0],[2.1,1.6,1.9,2.3],[2.4,1.5,2.0,1.8],[1.8,2.3,1.4,2.1],[2.0,1.7,2.5,1.9],[1.9,2.2,1.6,2.4],[2.1,1.5,1.8,2.0],[2.3,2.0,1.6,1.9],[1.7,2.2,2.4,2.0],[2.0,2.6,1.8,2.2],[2.3,1.9,1.5,2.0],[2.1,2.4,1.7,1.9],[1.8,2.2,2.0,1.6],[1.5,1.9,2.3,1.7],[1.7,1.3,2.1,1.5],[2.0,1.6,1.2,1.4],[1.4,1.8,1.1,1.6],[1.6,0.9,1.3,1.1],[1.0,0.7,1.5,1.2],[1.2,0.5,0.9,1.4],[1.5,1.1,1.8,1.3],[1.3,1.7,1.0,1.5],[1.6,1.2,1.9,1.4],[1.4,1.8,1.1,1.6],[1.7,1.3,2.0,1.5],[1.5,0.6,1.2,1.7],[1.8,1.4,2.8,1.6],[1.6,1.2,1.9,1.4],[1.3,1.7,1.5,1.1],[1.8,1.4,2.1,1.6],[1.5,1.2,1.7,1.4],[1.9,1.6,1.3,1.5],[1.4,1.8,1.6,1.2],[1.7,1.3,2.0,1.5],[1.5,1.9,1.2,1.7],[1.8,1.4,1.6,1.3],[2.1,1.5,1.3,1.7],[1.6,1.9,1.4,1.2],[1.8,1.5,2.2,1.6],[1.7,2.0,1.5,1.9],[1.9,2.3,1.8,2.1],[2.0,2.4,1.7,2.2],[2.2,1.9,2.6,2.0],[2.4,2.0,1.8,2.2],[2.1,2.7,2.3,2.5],[2.5,2.0,2.8,2.3],[2.2,2.6,3.0,2.4],[2.0,2.4,2.7,2.2],[3.2,2.5,2.9,2.7],[3.6,2.6,2.3,2.9],[2.8,3.1,2.5,2.7],[2.4,2.9,2.1,2.6],[3.0,2.6,2.2,2.8],[1.5,2.2,2.8,2.5],[3.4,2.9,2.5,3.1],[2.6,3.2,2.8,3.0],[2.9,3.4,2.4,2.7],[2.7,3.0,3.5,2.5],[3.1,2.6,2.9,2.8],[2.8,3.3,2.5,3.0],[3.5,2.7,3.0,3.2],[2.6,3.2,2.9,3.0],[3.6,3.0,3.3,3.1],[3.2,3.8,3.4],[3.9,3.5,4.1],[3.7,4.2,3.4],[4.0,4.4,3.8],[4.3,4.7,4.0],[4.5,4.1,4.8],[4.2,4.6,3.9],[4.4,4.0,4.7],[4.1,4.5,2.5],[4.3,4.8,3.5],[4.5,4.0,4.7],[4.2,4.6,4.9],[4.4,4.0,3.9],[4.1,4.6,4.3],[4.5,4.2,3.8],[4.0,4.4,3.7],[4.3,4.7,4.1],[4.2,4.6,3.9],[4.6,4.4,4.1],[4.9,5.2,4.5],[5.4,4.8,5.8],[5.0,5.6,4.7],[5.5,4.6,5.1],[5.8,5.3,4.4],[6.0,5.6,5.2],[5.4,5.9,6.2],[5.2,5.7,5.0],[5.5,4.9,5.3],[5.0,5.4,4.7],[5.2,4.8,5.6],[4.9,5.3,4.5],[4.6,4.2,4.9],[4.4,4.0,4.7],[4.5,4.1,3.8],[4.2,4.8,3.9],[4.6,4.3,5.0],[4.0,3.6,4.4],[3.8,3.4,4.1],[3.5,3.1,3.8],[3.2,2.9,3.5],[3.0,3.4,2.7],[3.1,2.8,3.3],[2.9,3.2,2.6],[3.0,2.5,2.8],[2.7,2.3,3.1],[2.5,2.8,2.2],[2.6,2.0,2.4],[2.3,2.7,2.1],[2.5,2.2,1.9],[2.4,2.8,2.1],[2.6,2.3,2.0],[2.2,2.5,1.9],[2.4,2.7,2.1],[2.0,2.3,2.8],[2.5,2.2,2.6],[2.7,2.4,2.9],[2.5,2.1,2.8],[2.8,2.3,2.6],[3.5,4.0,3.2],[3.9,3.6,4.3],[4.5,4.1,3.8],[4.6,4.2,4.0],[4.8,4.4,5.0],[4.7,5.0,4.3],[5.1,4.6,5.4],[5.3,4.9,5.6],[5.5,5.1,5.8],[5.6,5.9,5.3],[5.8,5.5,6.1],[6.0,6.4,5.6],[6.9,6.2,5.7],[6.1,5.8,6.4],[6.3,5.9,6.6],[6.5,6.0,6.7],[6.4,6.8,6.1],[6.6,6.2,5.9],[6.5,6.0,6.3],[6.1,5.4,5.8],[5.2,5.6,4.9],[5.0,4.8,5.3],[6.5,4.8,5.5],[6.9]];
const ch3br = [[9.95,7.55],[10.0,7.6],[10.05,7.55],[10.15,7.5],[10.2,7.45],[10.25,7.5],[10.3,7.45],[10.35,7.5],[10.4,7.45],[10.45,7.55],[10.5,7.5],[10.55,7.55],[10.7,7.45],[10.75,7.45],[10.8,7.4],[10.85,7.45],[10.9,7.4],[10.95,7.4],[11.0,7.45],[11.05,7.35],[11.15,7.35],[11.2,7.4],[11.25,7.35],[11.35,7.45],[11.45,7.4],[11.5,7.35],[11.55,7.45],[11.6,7.4],[11.65,7.4],[11.7,7.35],[11.75,7.4],[11.8,7.35],[11.85,7.4],[11.9,7.35],[12.0,7.55],[12.05,7.6],[12.1,7.6],[12.15,7.65],[12.2,7.6],[12.25,7.7],[12.3,7.65],[12.35,7.7],[12.4,7.65],[12.45,7.7],[12.5,7.6],[12.6,7.45]];
const halons = [[9.85,7.8],[9.95,7.8],[10.0,7.85],[10.05,7.75],[10.2,7.6],[10.3,7.55],[10.4,7.6],[10.5,7.7],[10.55,7.75],[10.7,7.7],[10.75,7.75],[10.85,7.7],[10.9,7.8],[11.0,7.7],[11.1,7.75],[11.2,7.7],[11.25,7.7],[11.35,7.75],[11.45,7.75],[11.5,7.65],[11.55,7.7],[11.65,7.7],[11.7,7.65],[11.8,7.7],[11.9,7.7],[12.05,7.75],[12.1,7.8],[12.2,7.85],[12.25,7.9],[12.3,7.95],[12.35,8.05],[12.4,7.85],[12.45,7.8],[12.5,8.05],[12.55,7.95],[12.6,7.85]];

// ---------------- STYLE / LAYOUT ----------------
const FONT = '"Liberation Sans", Arial, Helvetica, sans-serif';
const BLUE = '#0072BD', GRAY = '#b5b5b5', GRAYTX = '#a8a8a8', TXT = '#262626', RED = '#ff0000';
const SHADE = '#d3ddf2', SHADE2 = '#dde5f6';
const colL = {left:59, width:484}, colR = {left:741, width:482};
const rows = [{top:31, height:229}, {top:260, height:229}, {top:489, height:229}];
const grids = [];
[colL, colR].forEach(c => rows.forEach(r => grids.push({left:c.left, top:r.top, width:c.width, height:r.height})));
// grid order: 0 a, 1 c, 2 e, 3 b, 4 d, 5 f

// spread the readings of one sampling slot (0.05 h wide) across that slot
function groups(ts, vs) {
  const out = [];
  ts.forEach((t, i) => vs[i].forEach((v, j) => out.push([t + j * 0.05 / vs[i].length, v])));
  return out;
}

const xAxes = [];
grids.forEach((g, i) => {
  const L = i < 3;
  const mn = L ? 12.5 : 8.5, mx = L ? 19.6 : 18;
  const tk = L ? xTicksL : xTicksR;
  const showLab = (i === 2 || i === 5);
  xAxes.push({type:'value', gridIndex:i, position:'bottom', min:mn, max:mx,
    axisLine:{show:true, onZero:false, lineStyle:{color:'#1a1a1a', width:1.3}},
    axisTick:{show:true, inside:true, length:5, customValues:tk, lineStyle:{color:'#1a1a1a', width:1.2}},
    axisLabel:{show:showLab, customValues:tk, color:TXT, fontSize:13, fontFamily:FONT, margin:9},
    splitLine:{show:false},
    name: showLab ? 'Time [UTC]' : '', nameLocation:'middle', nameGap:28,
    nameTextStyle:{color:TXT, fontSize:15, fontFamily:FONT}});
  xAxes.push({type:'value', gridIndex:i, position:'top', min:mn, max:mx,
    axisLine:{show:true, onZero:false, lineStyle:{color:'#1a1a1a', width:1.3}},
    axisTick:{show:true, inside:true, length:5, customValues:tk, lineStyle:{color:'#1a1a1a', width:1.2}},
    axisLabel:{show:false}, splitLine:{show:false}});
});

function yAx(g, pos, mn, mx, tk, color, name, gap, offset) {
  return {type:'value', gridIndex:g, position:pos, offset:offset || 0, min:mn, max:mx,
    axisLine:{show:true, onZero:false, lineStyle:{color:color === TXT ? '#1a1a1a' : color, width:1.3}},
    axisTick:{show:true, inside:true, length:5, customValues:tk, lineStyle:{color:color === TXT ? '#1a1a1a' : color, width:1.2}},
    axisLabel:{customValues:tk, color:color, fontSize:13, fontFamily:FONT, margin:6},
    splitLine:{show:false},
    name:name, nameLocation:'middle', nameGap:gap, nameRotate:90,
    nameTextStyle:{color:color, fontSize:15, fontFamily:FONT}};
}
const yAxes = [
  yAx(0,'left',280,400,thetaTicks,TXT,'Θ [K]',33),            //0
  yAx(0,'right',-10,80,latTicksL,BLUE,'Eq. Latitude [°N]',34), //1
  yAx(0,'right',316,334,n2oTicksL,GRAYTX,'N₂O [ppb]',40,64),   //2
  yAx(1,'left',0,60,emTicksL,TXT,'Emission Tracer [%]',24),    //3
  yAx(1,'right',20,140,coTicksL,BLUE,'CO [ppb]',36),           //4
  yAx(2,'left',0,10,brTicks,TXT,'Br [ppt]',16),                //5
  yAx(2,'right',-0.8,1.2,lagTicksL,BLUE,'Lag-Time [yrs]',38),  //6
  yAx(3,'left',280,400,thetaTicks,TXT,'Θ [K]',28),             //7
  yAx(3,'right',20,80,latTicksR,BLUE,'Eq. Latitude [°N]',34),  //8
  yAx(3,'right',317,332,n2oTicksR,GRAYTX,'N₂O [ppb]',39,61),   //9
  yAx(4,'left',0,50,emTicksR,TXT,'Emission Tracer [%]',23),    //10
  yAx(4,'right',20,120,coTicksR,BLUE,'CO [ppb]',40),           //11
  yAx(5,'left',0,10,brTicks,TXT,'Br [ppt]',16),                //12
  yAx(5,'right',-0.6,1.4,lagTicksR,BLUE,'Lag-Time [yrs]',42)   //13
];

function ln(name, xi, yi, data, color, dash, w) {
  return {name, type:'line', xAxisIndex:xi, yAxisIndex:yi, data, showSymbol:false, symbol:'none',
    lineStyle:{color, width:w || 1.5, type: dash ? [6,4] : 'solid'}, itemStyle:{color},
    connectNulls:false, animation:false, silent:true, z:3};
}
function sc(name, xi, yi, data, color, size) {
  return {name, type:'scatter', xAxisIndex:xi, yAxisIndex:yi, data, symbol:'circle', symbolSize:size,
    itemStyle:{color, opacity:1}, animation:false, silent:true, z:4};
}
function shade(name, xi, yi, areas) {
  return {name, type:'line', xAxisIndex:xi, yAxisIndex:yi, data:[], z:1, silent:true, animation:false,
    markArea:{silent:true, data:areas.map(a => [{xAxis:a[0], itemStyle:{color:a[2]}}, {xAxis:a[1]}])}};
}
const aL = [[shadeL[0], shadeL[1], SHADE]];
const aR = [[shadeR[0], shadeR[1], SHADE], [shadeR2[0], shadeR2[1], SHADE2]];

const series = [
  shade('shA',0,0,aL), shade('shC',2,3,aL), shade('shE',4,5,aL),
  shade('shB',6,7,aR), shade('shD',8,10,aR), shade('shF',10,12,aR),
  // (a)
  ln('N2O RF14',0,2,n2oL,GRAY),
  ln('Eq. Lat. RF14',0,1,latL,BLUE),
  ln('WMO Tropopause RF14',0,0,tropL,'#000',true),
  ln('BAHAMAS Flight Track RF14',0,0,thetaL,'#000'),
  // (c)
  ln('UMAQS CO RF14',2,4,coL,BLUE),
  ln('CAM RF14',2,3,camL,'#000',true),
  ln('TME RF14',2,3,tmeL,'#000'),
  // (e)
  ln('SF6 Lag-Time RF14',4,6,lagL,BLUE),
  sc('Bry inorg RF14',4,5,groups(brL_t, brL_v),RED,4.5),
  // (b)
  ln('N2O RF15',6,9,n2oR,GRAY),
  ln('Eq. Lat. RF15',6,8,latR,BLUE),
  ln('WMO Tropopause RF15',6,7,tropR,'#000',true),
  ln('BAHAMAS Flight Track RF15',6,7,thetaR,'#000'),
  // (d)
  ln('UMAQS CO RF15',8,11,coR,BLUE),
  ln('CAM RF15',8,10,camR,'#000',true),
  ln('TME RF15',8,10,tmeR,'#000'),
  // (f)
  ln('SF6 Lag-Time RF15',10,13,lagR,BLUE),
  sc('CH3Br RF15',10,12,ch3br,'#10109a',4),
  sc('Halons RF15',10,12,halons,'#7e2f8e',4),
  sc('Bry inorg RF15',10,12,groups(brR_t, brR_v),RED,4.5)
];

// ---------------- GRAPHIC TEXT (titles, panel tags, legends) ----------------
const G = [];
function tx(x, y, text, size, opt) {
  opt = opt || {};
  G.push({type:'text', x, y, silent:true, z:100, style:{text, fill:opt.fill || TXT,
    font:(opt.bold ? 'bold ' : '') + size + 'px ' + FONT, align:opt.align || 'left', verticalAlign:'middle'}});
}
function seg(x1, y, x2, color, dash) {
  G.push({type:'line', silent:true, z:100, shape:{x1, y1:y, x2, y2:y},
    style:{stroke:color, lineWidth:1.5, lineDash: dash ? [6,4] : null}});
}
function dot(x, y, color) {
  G.push({type:'circle', silent:true, z:100, shape:{cx:x, cy:y, r:2.3}, style:{fill:color}});
}
tx(301, 20, 'RF14: Oct. 15, 2017', 14.5, {bold:true, align:'center'});
tx(982, 20, 'RF15: Oct. 19, 2017', 14.5, {bold:true, align:'center'});
[['(a)',65,42],['(c)',65,272],['(e)',65,501],['(b)',746,42],['(d)',746,272],['(f)',746,501]]
  .forEach(p => tx(p[1], p[2], p[0], 12));
// legend (a)
const la = [['BAHAMAS Flight Track','#000',false],['WMO Tropopause','#000',true],['Eq. Lat.',BLUE,false],['N₂O',GRAY,false]];
la.forEach((e, i) => { const y = 188.5 + i * 13; seg(235, y, 269, e[1], e[2]); tx(273, y, e[0], 10.5); });
// legend (c)
const lc = [['TME','#000',false],['CAM','#000',true],['UMAQS CO',BLUE,false]];
lc.forEach((e, i) => { const y = 272 + i * 13.5; seg(88, y, 123, e[1], e[2]); tx(126, y, e[0], 10.5); });
// legend (e)
dot(106, 505, RED); tx(127, 505, 'Br', 10.5); tx(139, 499, 'inorg', 8.5); tx(139, 512, 'y', 8.5);
seg(88, 524, 123, BLUE, false); tx(127, 524, 'SF₆ Lag-Time', 10.5);
// legend (f)
dot(895, 510, '#10109a'); tx(916, 509, 'CH₃Br', 10.5);
dot(972, 510, '#7e2f8e'); tx(992, 510, 'Halons', 10.5);
dot(1050, 510, RED); tx(1066, 509, 'Br', 10.5); tx(1078, 503, 'inorg', 8.5); tx(1078, 516, 'y', 8.5);
seg(1108, 510, 1143, BLUE, false); tx(1146, 509, 'SF₆ Lag-Time', 10.5);

const chart = echarts.init(document.getElementById('c'), null, {renderer:'canvas', width:1338, height:759});
chart.setOption({
  animation:false,
  backgroundColor:'#ffffff',
  textStyle:{fontFamily:FONT},
  grid: grids.map(g => Object.assign({containLabel:false}, g)),
  xAxis: xAxes,
  yAxis: yAxes,
  series: series,
  graphic: {elements: G}
});
</script>
</body></html>
